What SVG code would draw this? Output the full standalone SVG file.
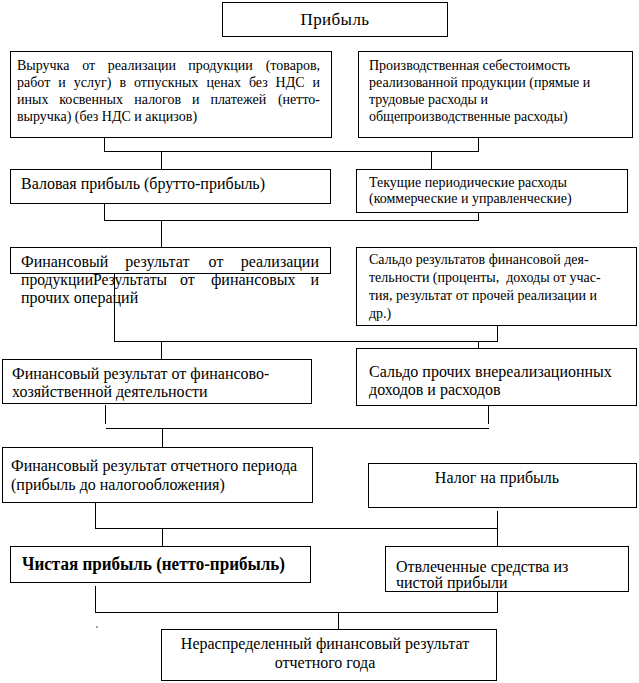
<svg xmlns="http://www.w3.org/2000/svg" width="639" height="683" viewBox="0 0 639 683">
<style>
.box{fill:#fff;stroke:#000;stroke-width:1;shape-rendering:crispEdges}
.ln{stroke:#000;stroke-width:1;fill:none;shape-rendering:crispEdges}
text{font-family:"Liberation Serif","Times New Roman",serif;fill:#000}
.t14{font-size:14px}
.t16{font-size:16px}
.mid{text-anchor:middle}
.end{text-anchor:end}
</style>
<rect width="639" height="683" fill="#fff"/>
<g id="connectors">
<path class="ln" d="M104.5 137V151.5M478.5 137V151.5M104.5 151.5H478.5M161.5 151.5V169M431.5 151.5V169"/>
<path class="ln" d="M104.5 203V220.5M478.5 212V220.5M104.5 220.5H478.5M161.5 220.5V247"/>
<path class="ln" d="M114.5 273V341.5M497.5 325V341.5M114.5 341.5H497.5M161.5 341.5V359M478.5 341.5V348"/>
<path class="ln" d="M105.5 405V424M488.5 406V424M106 428.5H489M162.5 428.5V447"/>
<path class="ln" d="M95.5 502V528.5M497.5 511V546M95.5 528.5H497.5M162.5 528.5V546"/>
<path class="ln" d="M95.5 586V612.5M497.5 591V612.5M95.5 612.5H497.5M338.5 612.5V629"/>
<circle cx="97" cy="627" r="0.7" fill="#000"/>
<circle cx="489" cy="400.5" r="0.7" fill="#000"/>
</g>
<g id="n0">
<rect class="box" x="222.5" y="2.5" width="225" height="34"/>
<text x="335" y="25" class="mid" style="font-size:17px;letter-spacing:0.4px">Прибыль</text>
</g>
<g id="n1">
<rect class="box" x="10.5" y="51.5" width="321" height="86"/>
<text class="t14" y="70"><tspan x="17">Выручка</tspan><tspan x="82.2">от</tspan><tspan x="107.7">реализации</tspan><tspan x="188.2">продукции</tspan><tspan x="320" class="end">(товаров,</tspan></text>
<text class="t14" y="87"><tspan x="17">работ</tspan><tspan x="58.3">и</tspan><tspan x="73.8">услуг)</tspan><tspan x="119.4">в</tspan><tspan x="134">отпускных</tspan><tspan x="206.5">ценах</tspan><tspan x="248.9">без</tspan><tspan x="275.6">НДС</tspan><tspan x="320" class="end">и</tspan></text>
<text class="t14" y="104"><tspan x="17">иных</tspan><tspan x="59.2">косвенных</tspan><tspan x="134.3">налогов</tspan><tspan x="192.1">и</tspan><tspan x="210.4">платежей</tspan><tspan x="320" class="end">(нетто-</tspan></text>
<text class="t14" x="17" y="121">выручка) (без НДС и акцизов)</text>
</g>
<g id="n2">
<rect class="box" x="358.5" y="51.5" width="274" height="86"/>
<text class="t14" x="369" y="70">Производственная себестоимость</text>
<text class="t14" x="369" y="87">реализованной продукции (прямые и</text>
<text class="t14" x="369" y="104">трудовые расходы и</text>
<text class="t14" x="369" y="121">общепроизводственные расходы)</text>
</g>
<g id="n3">
<rect class="box" x="10.5" y="169.5" width="320" height="34"/>
<text class="t16" x="21" y="189">Валовая прибыль (брутто-прибыль)</text>
</g>
<g id="n4">
<rect class="box" x="356.5" y="169.5" width="271" height="43"/>
<text class="t14" x="369" y="187">Текущие периодические расходы</text>
<text class="t14" x="369" y="203">(коммерческие и управленческие)</text>
</g>
<g id="n5">
<rect class="box" x="10.5" y="247.5" width="320" height="26"/>
<text class="t16" y="267"><tspan x="21">Финансовый</tspan><tspan x="125.3">результат</tspan><tspan x="208.6">от</tspan><tspan x="319" class="end">реализации</tspan></text>
<text class="t16" y="285"><tspan x="21" textLength="146" lengthAdjust="spacingAndGlyphs">продукцииРезультаты</tspan><tspan x="180">от</tspan><tspan x="211">финансовых</tspan><tspan x="319" class="end">и</tspan></text>
<text class="t16" x="21" y="303">прочих операций</text>
</g>
<g id="n6">
<rect class="box" x="356.5" y="247.5" width="280" height="78"/>
<text class="t14" x="369" y="264">Сальдо результатов финансовой дея-</text>
<text class="t14" x="369" y="282" xml:space="preserve">тельности (проценты,  доходы от учас-</text>
<text class="t14" x="369" y="300">тия, результат от прочей реализации и</text>
<text class="t14" x="369" y="318">др.)</text>
</g>
<g id="n7">
<rect class="box" x="2.5" y="359.5" width="309" height="44"/>
<text class="t16" x="12" y="379">Финансовый результат от финансово-</text>
<text class="t16" x="12" y="397">хозяйственной деятельности</text>
</g>
<g id="n8">
<rect class="box" x="356.5" y="348.5" width="280" height="57"/>
<text class="t16" x="369" y="377">Сальдо прочих внереализационных</text>
<text class="t16" x="369" y="395">доходов и расходов</text>
</g>
<g id="n9">
<rect class="box" x="2.5" y="447.5" width="310" height="55"/>
<text class="t16" x="11" y="471">Финансовый результат отчетного периода</text>
<text class="t16" x="11" y="490">(прибыль до налогообложения)</text>
</g>
<g id="n10">
<rect class="box" x="368.5" y="463.5" width="268" height="44"/>
<text class="t16 mid" x="497" y="483">Налог на прибыль</text>
</g>
<g id="n11">
<rect class="box" x="10.5" y="546.5" width="300" height="36"/>
<text x="22" y="570" style="font-size:18.5px;font-weight:bold" textLength="263" lengthAdjust="spacingAndGlyphs">Чистая прибыль (нетто-прибыль)</text>
</g>
<g id="n12">
<rect class="box" x="385.5" y="546.5" width="243" height="45"/>
<text class="t16" x="396" y="572">Отвлеченные средства из</text>
<text class="t16" x="396" y="588">чистой прибыли</text>
</g>
<g id="n13">
<rect class="box" x="161.5" y="629.5" width="335" height="51"/>
<text class="t16 mid" x="325" y="649">Нераспределенный финансовый результат</text>
<text class="t16 mid" x="325" y="668">отчетного года</text>
</g>
</svg>
